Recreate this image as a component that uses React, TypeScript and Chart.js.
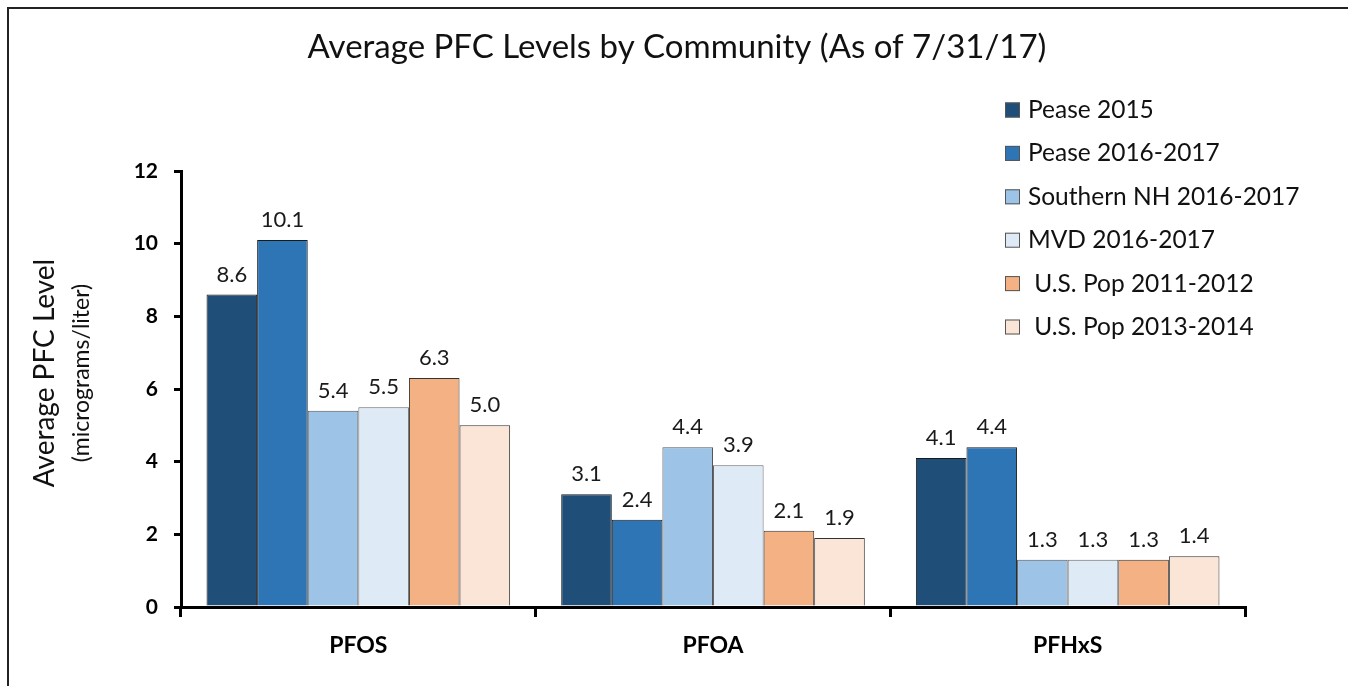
import React, { useEffect, useRef } from "react";
import { Chart, registerables } from "chart.js";

Chart.register(...registerables);

const chartTitle = "Average PFC Levels by Community (As of 7/31/17)";
const yTitleMain = "Average PFC Level";
const yTitleSub = "(micrograms/liter)";
const categories = ["PFOS", "PFOA", "PFHxS"];
const seriesLabels = [
  "Pease 2015",
  "Pease 2016-2017",
  "Southern NH 2016-2017",
  "MVD 2016-2017",
  " U.S. Pop 2011-2012",
  " U.S. Pop 2013-2014",
];
const pease2015 = [8.6, 3.1, 4.1];
const pease2016 = [10.1, 2.4, 4.4];
const southernNH = [5.4, 4.4, 1.3];
const mvd = [5.5, 3.9, 1.3];
const usPop2011 = [6.3, 2.1, 1.3];
const usPop2013 = [5.0, 1.9, 1.4];
const seriesValues = [pease2015, pease2016, southernNH, mvd, usPop2011, usPop2013];
const yTicks = [0, 2, 4, 6, 8, 10, 12];

const fillColors = ["#1F4E79", "#2E75B6", "#9DC3E6", "#DEEBF7", "#F4B183", "#FBE5D6"];
const edgeColors = ["#1a1a1a", "#1a1a1a", "#555555", "#666666", "#333333", "#333333"];

const FONT = "Lato, 'Open Sans', sans-serif";

const decorPlugin = {
  id: "decor",
  afterDatasetsDraw(chart: any) {
    const ctx = chart.ctx;
    ctx.save();
    ctx.font = `22px ${FONT}`;
    ctx.fillStyle = "#1a1a1a";
    ctx.textAlign = "center";
    ctx.textBaseline = "alphabetic";
    chart.data.datasets.forEach((ds: any, i: number) => {
      const meta = chart.getDatasetMeta(i);
      meta.data.forEach((el: any, j: number) => {
        const v = ds.data[j];
        ctx.fillText(Number(v).toFixed(1), el.x, el.y - 13);
      });
    });
    ctx.restore();
  },
  afterDraw(chart: any) {
    const ctx = chart.ctx;
    const area = chart.chartArea;
    ctx.save();
    ctx.font = `33px ${FONT}`;
    ctx.fillStyle = "#111";
    ctx.textAlign = "center";
    ctx.textBaseline = "middle";
    ctx.fillText(chartTitle, 677, 47);

    const cy = (area.top + area.bottom) / 2 - 16;
    ctx.save();
    ctx.translate(45, cy);
    ctx.rotate(-Math.PI / 2);
    ctx.font = `28px ${FONT}`;
    ctx.fillText(yTitleMain, 0, 0);
    ctx.restore();
    ctx.save();
    ctx.translate(82, cy);
    ctx.rotate(-Math.PI / 2);
    ctx.font = `23px ${FONT}`;
    ctx.fillText(yTitleSub, 0, 0);
    ctx.restore();

    ctx.font = `24.5px ${FONT}`;
    ctx.textAlign = "left";
    ctx.textBaseline = "middle";
    chart.data.datasets.forEach((ds: any, i: number) => {
      const y = 110 + i * 43.4;
      ctx.fillStyle = ds.backgroundColor;
      ctx.fillRect(1005, y - 7.5, 15, 15);
      ctx.strokeStyle = "#555";
      ctx.lineWidth = 1;
      ctx.strokeRect(1005.5, y - 7, 14, 14);
      ctx.fillStyle = "#111";
      ctx.fillText(ds.label, 1028, y);
    });
    ctx.restore();
  },
};

export default function App() {
  const canvasRef = useRef<HTMLCanvasElement | null>(null);

  useEffect(() => {
    if (!canvasRef.current) return;
    const chart = new Chart(canvasRef.current, {
      type: "bar",
      data: {
        labels: categories,
        datasets: seriesLabels.map((label, i) => ({
          label,
          data: seriesValues[i],
          backgroundColor: fillColors[i],
          borderColor: edgeColors[i],
          borderWidth: 1,
          categoryPercentage: 0.856,
          barPercentage: 1,
        })),
      },
      options: {
        animation: false,
        responsive: false,
        devicePixelRatio: 1,
        layout: { padding: { top: 171, right: 103, left: 0, bottom: 0 } },
        plugins: {
          legend: { display: false },
          title: { display: false },
          tooltip: { enabled: false },
        },
        scales: {
          x: {
            grid: {
              offset: true,
              drawOnChartArea: false,
              drawTicks: true,
              tickLength: 10,
              color: "#000",
              lineWidth: 3,
            },
            border: { color: "#000", width: 3 },
            ticks: {
              padding: 15,
              color: "#000",
              font: { family: FONT, size: 23, weight: "bold" },
            },
            afterFit(scale: any) {
              scale.height = 79;
            },
          },
          y: {
            min: 0,
            max: 12,
            afterBuildTicks(scale: any) {
              scale.ticks = yTicks.map((v) => ({ value: v }));
            },
            grid: {
              drawOnChartArea: false,
              drawTicks: true,
              tickLength: 7,
              color: "#000",
              lineWidth: 3,
            },
            border: { color: "#000", width: 3 },
            ticks: {
              padding: 16,
              color: "#000",
              font: { family: FONT, size: 21, weight: "bold" },
            },
            afterFit(scale: any) {
              scale.width = 181;
            },
          },
        },
      },
      plugins: [decorPlugin],
    });
    return () => chart.destroy();
  }, []);

  return (
    <div
      style={{
        position: "fixed",
        left: 0,
        top: 0,
        width: 1348,
        height: 686,
        overflow: "hidden",
        background: "#fff",
      }}
    >
      <canvas ref={canvasRef} width={1348} height={686} style={{ display: "block" }} />
      <div
        style={{
          position: "absolute",
          left: 7,
          top: 7,
          width: 2000,
          height: 2000,
          borderTop: "2px solid #222",
          borderLeft: "2px solid #222",
          pointerEvents: "none",
        }}
      />
    </div>
  );
}
